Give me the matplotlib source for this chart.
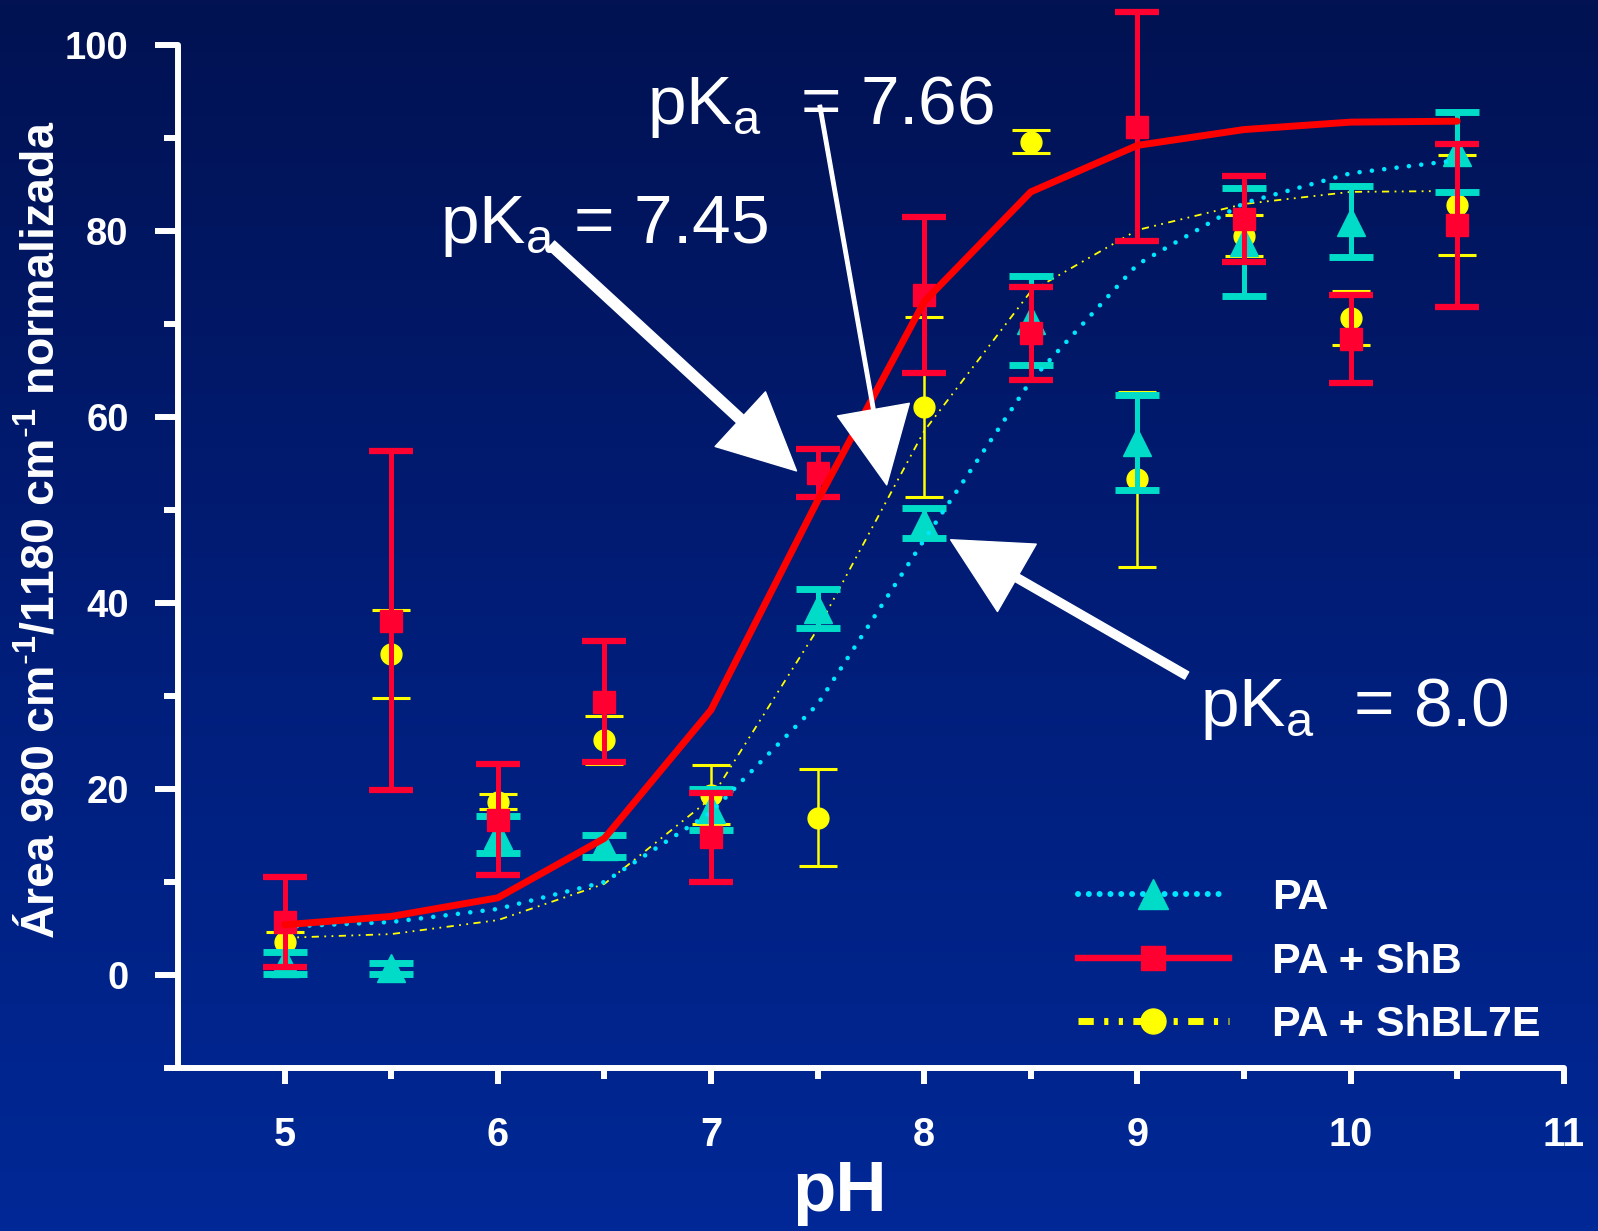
import numpy as np
import matplotlib
matplotlib.use("Agg")
import matplotlib.pyplot as plt
from matplotlib.lines import Line2D
from matplotlib.colors import LinearSegmentedColormap

plt.rcParams['font.family'] = ['Liberation Sans', 'DejaVu Sans']
plt.rcParams['mathtext.fontset'] = 'custom'
plt.rcParams['mathtext.rm'] = 'Liberation Sans'
plt.rcParams['mathtext.it'] = 'Liberation Sans:italic'
plt.rcParams['mathtext.bf'] = 'Liberation Sans:bold'

# pH titration, normalised area 980/1180 cm-1
ph = [5, 5.5, 6, 6.5, 7, 7.5, 8, 8.5, 9, 9.5, 10, 10.5]

pa = [1.3, 0.7, 15.1, 13.9, 17.8, 39.4, 48.6, 70.4, 57.3, 78.8, 81.0, 88.5]
pa_err = [1.2, 0.6, 2.0, 1.2, 2.2, 2.1, 1.6, 4.8, 5.1, 5.8, 3.8, 4.3]
pa_fit = [5.2, 5.7, 7.1, 10.0, 17.5, 29.1, 46.8, 63.9, 76.4, 83.0, 86.2, 87.6]

shb = [5.7, 38.1, 16.7, 29.4, 14.8, 54.0, 73.1, 69.0, 91.2, 81.3, 68.4, 80.6]
shb_err = [4.85, 18.2, 6.0, 6.5, 4.8, 2.6, 8.4, 5.0, 12.3, 4.6, 4.7, 8.8]
shb_fit = [5.4, 6.3, 8.3, 14.7, 28.5, 51.0, 72.4, 84.2, 89.2, 90.9, 91.7, 91.8]

l7e = [3.6, 34.5, 18.65, 25.3, 19.4, 16.9, 61.1, 89.6, 53.3, 79.5, 70.6, 82.8]
l7e_err = [1.05, 4.75, 0.85, 2.6, 3.2, 5.2, 9.7, 1.2, 9.4, 2.2, 2.9, 5.4]
l7e_fit = [4.0, 4.4, 5.9, 9.8, 19.0, 37.2, 58.5, 73.5, 80.1, 82.9, 84.2, 84.3]

labels = ['PA', 'PA + ShB', 'PA + ShBL7E']

CYAN = '#00dcc8'
CYAN_LINE = '#00e6ff'
RED = '#ff0030'
RED_LINE = '#ff0000'
YELLOW = '#ffff00'

fig = plt.figure(figsize=(15.98, 12.31), dpi=100)

# blue gradient background
bg = fig.add_axes([0, 0, 1, 1], zorder=-1)
grad = np.linspace(0, 1, 256).reshape(-1, 1)
cmap = LinearSegmentedColormap.from_list('slide', ['#021252', '#011d78', '#002896'])
bg.imshow(grad, aspect='auto', cmap=cmap, extent=[0, 1, 0, 1], origin='upper')
bg.axis('off')

ax = fig.add_axes([0.1114, 0.1324, 0.8712, 0.8651])
ax.patch.set_alpha(0)

# PA + ShBL7E
ax.errorbar(ph, l7e, yerr=l7e_err, fmt='o', color=YELLOW, ms=15,
            elinewidth=1.8, capsize=14, capthick=2.2, zorder=3)
ax.plot(ph, l7e_fit, color=YELLOW, lw=1.3, ls=(0, (4, 3, 1, 3, 1, 3)), zorder=3.5)

# PA
ax.errorbar(ph, pa, yerr=pa_err, fmt='^', color=CYAN, ms=20,
            elinewidth=3.6, capsize=16, capthick=5, zorder=4)
ax.plot(ph, pa_fit, color=CYAN_LINE, lw=3.3, ls=(0, (0.01, 2.7)),
        dash_capstyle='round', zorder=4.5)

# PA + ShB
ax.errorbar(ph, shb, yerr=shb_err, fmt='s', color=RED, ms=16,
            elinewidth=3.6, capsize=16, capthick=4.5, zorder=5)
ax.plot(ph, shb_fit, color=RED_LINE, lw=5, solid_capstyle='round', zorder=5.5)

ax.set_xlim(4.5, 11.03)
ax.set_ylim(-10, 104.5)
ax.set_xticks([5, 6, 7, 8, 9, 10, 11])
ax.set_xticks([5.5, 6.5, 7.5, 8.5, 9.5, 10.5], minor=True)
ax.set_yticks([0, 20, 40, 60, 80, 100])
ax.set_yticks([-10, 10, 30, 50, 70, 90], minor=True)

for side in ['top', 'right']:
    ax.spines[side].set_visible(False)
for side in ['left', 'bottom']:
    ax.spines[side].set_color('white')
    ax.spines[side].set_linewidth(4.3)
    ax.spines[side].set_capstyle('round')
ax.spines['left'].set_bounds(-10, 100)
ax.spines['bottom'].set_bounds(4.5, 11)

ax.tick_params(which='both', colors='white', width=4.3, direction='out')
ax.tick_params(axis='y', which='major', length=16.5, pad=19, labelsize=27.5)
ax.tick_params(axis='y', which='minor', length=10)
ax.tick_params(axis='x', which='major', length=11.5, pad=23, labelsize=28.5)
ax.tick_params(axis='x', which='minor', length=8)
for lbl in ax.get_xticklabels() + ax.get_yticklabels():
    lbl.set_fontweight('bold')

fig.text(0.5257, 0.0162, 'pH', color='white', fontsize=51, fontweight='bold',
         ha='center', va='baseline')
fig.text(0.0257, 0.5695,
         r'Área 980 cm$^{\text{-}\mathbf{1}}$/1180 cm$^{\text{-}\mathbf{1}}$ normalizada',
         color='white', fontsize=33.5, fontweight='bold', rotation=90,
         ha='center', va='center')

# pKa annotations
txt = dict(color='white', fontsize=50, ha='left', va='baseline')
ax.text(6.698, 91.5, r'pK$_\mathregular{a}$  = 7.66', **txt)
ax.text(5.727, 78.7, r'pK$_\mathregular{a}$ = 7.45', **txt)
ax.text(9.292, 26.8, r'pK$_\mathregular{a}$  = 8.0', **txt)

def arrow(tail, tip, tail_w, head_l=1.1, head_w=1.1):
    style = f'simple,head_length={head_l},head_width={head_w},tail_width={tail_w}'
    ax.annotate('', xy=tip, xytext=tail,
                arrowprops=dict(arrowstyle=style, fc='white', ec='white',
                                mutation_scale=50, shrinkA=0, shrinkB=0),
                zorder=6)

arrow((6.25, 78.5), (7.401, 54.2), 0.15, 1.1, 1.07)
arrow((7.51, 93.5), (7.824, 52.7), 0.05, 1.1, 1.05)
arrow((9.231, 32.2), (8.124, 46.8), 0.12, 1.1, 1.12)

handles = [
    Line2D([], [], color=CYAN_LINE, lw=4.3, ls=(0, (0.01, 1.8)), dash_capstyle='round',
           marker='^', mfc=CYAN, mec=CYAN, ms=22),
    Line2D([], [], color=RED, lw=4.6, marker='s', ms=17),
    Line2D([], [], color=YELLOW, lw=5, ls=(0, (2.2, 1.5, 0.6, 1.5, 0.6, 1.5)),
           marker='o', ms=18),
]
leg = ax.legend(handles, labels, loc='upper left', bbox_to_anchor=(0.6746, 0.2867),
                bbox_transform=fig.transFigure, frameon=False,
                prop={'weight': 'bold', 'size': 31}, handlelength=3.5,
                handletextpad=1.0, labelspacing=0.55, borderpad=0, borderaxespad=0)
for t in leg.get_texts():
    t.set_color('white')

fig.savefig('out.png', dpi=100)
